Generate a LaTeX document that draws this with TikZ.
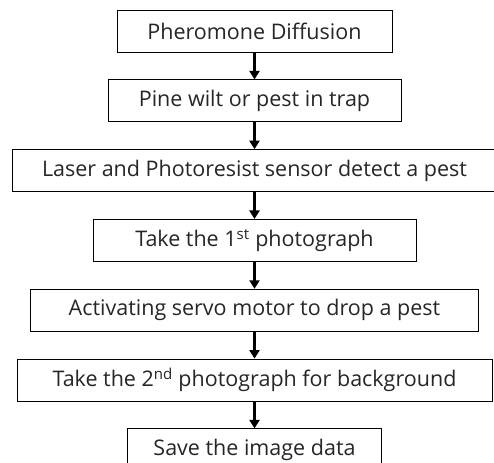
\documentclass[tikz,border=0pt]{standalone}
\usepackage{fontspec}
\setmainfont{Open Sans}
\usetikzlibrary{positioning,arrows.meta}

\begin{document}
\begin{tikzpicture}[
    x=1pt, y=1pt,
    node distance=27pt,
    box/.style={rectangle, draw, line width=0.8pt, minimum height=42pt, inner sep=0pt, align=center, text=black!85, font=\fontsize{21.5}{25}\selectfont},
    arrow/.style={-{Triangle[width=10pt,length=8.5pt]}, line width=2.6pt}
]
\useasboundingbox (0,0) rectangle (494,462);

% Process steps
\node[box, minimum width=275pt] (diffusion) at (254.5,431) {Pheromone Diffusion};
\node[box, minimum width=293pt, below=of diffusion] (trap) {Pine wilt or pest in trap};
\node[box, minimum width=485pt, below=of trap] (detect) {Laser and Photoresist sensor detect a pest};
\node[box, minimum width=323pt, below=of detect] (photo1) {Take the 1\textsuperscript{st} photograph};
\node[box, minimum width=448pt, below=of photo1] (servo) {Activating servo motor to drop a pest};
\node[box, minimum width=475pt, below=of servo] (photo2) {Take the 2\textsuperscript{nd} photograph for background};
\node[box, minimum width=254pt, below=of photo2] (save) {Save the image data};

% Arrows
\draw[arrow] (diffusion) -- (trap);
\draw[arrow] (trap) -- (detect);
\draw[arrow] (detect) -- (photo1);
\draw[arrow] (photo1) -- (servo);
\draw[arrow] (servo) -- (photo2);
\draw[arrow] (photo2) -- (save);

\end{tikzpicture}
\end{document}
